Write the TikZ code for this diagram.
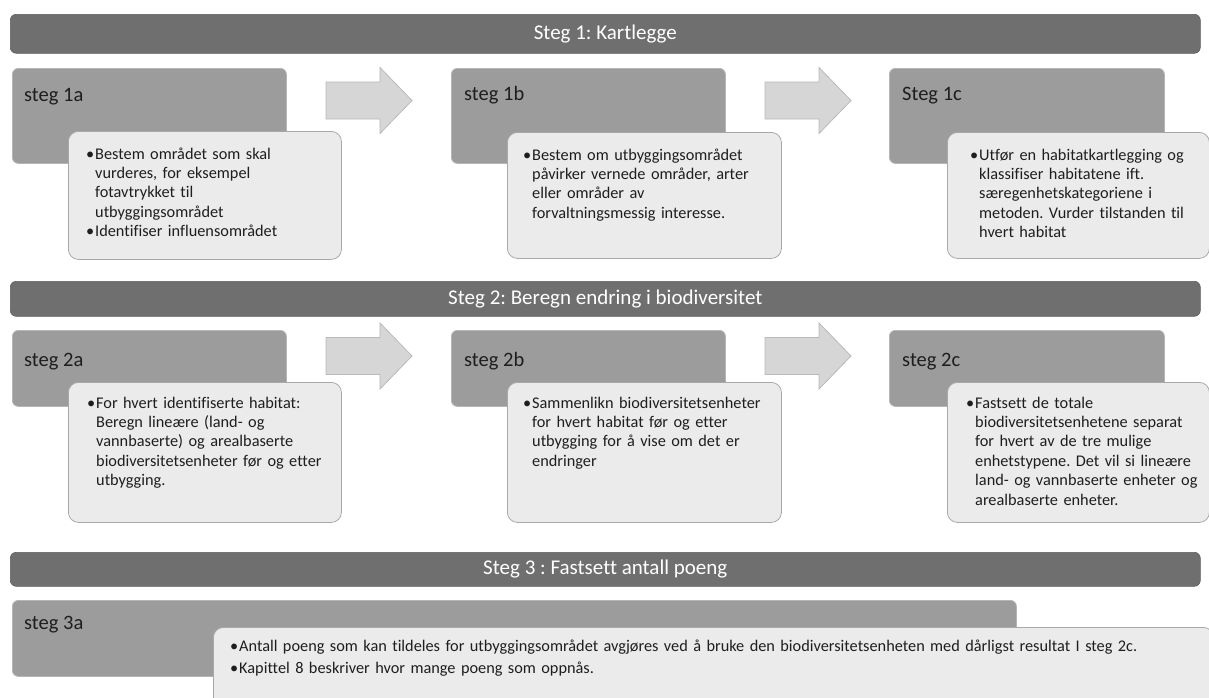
\documentclass[tikz,border=0pt]{standalone}
\usepackage{fontspec}
\setmainfont{Carlito}[Ligatures=NoCommon]
\frenchspacing
\definecolor{bannerc}{HTML}{6F6F6F}
\definecolor{bannerb}{HTML}{5E5E5E}
\definecolor{stepc}{HTML}{9C9C9C}
\definecolor{stepb}{HTML}{B5B5B5}
\definecolor{textc}{HTML}{EBEBEB}
\definecolor{textb}{HTML}{A8A8A8}
\definecolor{arrc}{HTML}{D6D6D6}
\definecolor{arrb}{HTML}{B9B9B9}
\definecolor{inkc}{HTML}{1E1E1E}
\newcommand\bl{\makebox[9pt][l]{•}}
\newcommand\ind{\hspace*{9pt}}
\tikzset{
  banner/.style={draw=bannerb, fill=bannerc, rounded corners=6pt, line width=0.6pt, inner sep=0pt, anchor=north west},
  bannertext/.style={text=white, font=\fontsize{21}{24}\selectfont, inner sep=0pt},
  stepbox/.style={draw=stepb, fill=stepc, rounded corners=6pt, line width=0.8pt, inner sep=0pt, anchor=north west},
  steplabel/.style={text=inkc, font=\fontsize{20.5}{24}\selectfont, inner sep=0pt, anchor=base west},
  textbox/.style={draw=textb, fill=textc, rounded corners=10pt, line width=0.8pt, inner sep=0pt, anchor=north west},
  bodytext/.style={text=inkc, font=\fontsize{16.3}{19.4}\selectfont, inner sep=0pt, anchor=base west, align=left, text width=#1},
  bodytext/.default=300pt,
  arrowshape/.style={draw=arrb, fill=arrc, line width=0.8pt}
}
\newcommand\blockarrow[3]{%
  \draw[arrowshape] (#1,#2) ++(0,-18.5) -- ++(54,0) -- ++(0,-14.5) -- ++(32,33) -- ++(-32,33) -- ++(0,-14.5) -- ++(-54,0) -- cycle;
  \coordinate (#3) at (#1,#2);}
\begin{document}
\begin{tikzpicture}[x=1pt,y=-1pt]
\useasboundingbox (0,0) rectangle (1209,697);
\clip (0,0) rectangle (1209,697);

% ---------- Step 1 ----------
\node[banner, minimum width=1190pt, minimum height=39pt] (b1) at (10,14) {};
\node[bannertext] (b1t) at (b1.center) {Steg 1: Kartlegge};

\node[stepbox, minimum width=274pt, minimum height=95pt] (s1a) at (12,68) {};
\node[steplabel] (l1a) at (24,101) {steg 1a};
\node[textbox, minimum width=273pt, minimum height=128pt] (x1a) at (68,131) {};
\node[bodytext] (t1a) at (86,159) {\bl Bestem området som skal\\\ind vurderes, for eksempel\\\ind fotavtrykket til\\\ind utbyggingsområdet\\\bl Identifiser influensområdet};

\blockarrow{326}{100.5}{a1}

\node[stepbox, minimum width=274pt, minimum height=95pt] (s1b) at (451,68) {};
\node[steplabel] (l1b) at (464,100) {steg 1b};
\node[textbox, minimum width=274pt, minimum height=126pt] (x1b) at (507,132) {};
\node[bodytext] (t1b) at (523,160) {\bl Bestem om utbyggingsområdet\\\ind påvirker vernede områder, arter\\\ind eller områder av\\\ind forvaltningsmessig interesse.};

\blockarrow{765}{100.5}{a2}

\node[stepbox, minimum width=275pt, minimum height=95pt] (s1c) at (889,68) {};
\node[steplabel] (l1c) at (902,100) {Steg 1c};
\node[textbox, minimum width=262pt, minimum height=126pt] (x1c) at (947,132) {};
\node[bodytext] (t1c) at (970,160) {\bl Utfør en habitatkartlegging og\\\ind klassifiser habitatene ift.\\\ind særegenhetskategoriene i\\\ind metoden. Vurder tilstanden til\\\ind hvert habitat};

% ---------- Step 2 ----------
\node[banner, minimum width=1190pt, minimum height=35pt] (b2) at (10,281) {};
\node[bannertext] (b2t) at (b2.center) {Steg 2: Beregn endring i biodiversitet};

\node[stepbox, minimum width=274pt, minimum height=76pt] (s2a) at (12,330) {};
\node[steplabel] (l2a) at (24,366) {steg 2a};
\node[textbox, minimum width=273pt, minimum height=140pt] (x2a) at (68,382) {};
\node[bodytext] (t2a) at (87,408) {\bl For hvert identifiserte habitat:\\\ind Beregn lineære (land- og\\\ind vannbaserte) og arealbaserte\\\ind biodiversitetsenheter før og etter\\\ind utbygging.};

\blockarrow{326}{356}{a3}

\node[stepbox, minimum width=274pt, minimum height=76pt] (s2b) at (451,330) {};
\node[steplabel] (l2b) at (464,366) {steg 2b};
\node[textbox, minimum width=274pt, minimum height=140pt] (x2b) at (507,382) {};
\node[bodytext] (t2b) at (523,408) {\bl Sammenlikn biodiversitetsenheter\\\ind for hvert habitat før og etter\\\ind utbygging for å vise om det er\\\ind endringer};

\blockarrow{765}{356}{a4}

\node[stepbox, minimum width=275pt, minimum height=76pt] (s2c) at (889,330) {};
\node[steplabel] (l2c) at (902,366) {steg 2c};
\node[textbox, minimum width=262pt, minimum height=140pt] (x2c) at (947,382) {};
\node[bodytext] (t2c) at (966,408) {\bl Fastsett de totale\\\ind biodiversitetsenhetene separat\\\ind for hvert av de tre mulige\\\ind enhetstypene. Det vil si lineære\\\ind land- og vannbaserte enheter og\\\ind arealbaserte enheter.};

% ---------- Step 3 ----------
\node[banner, minimum width=1190pt, minimum height=34pt] (b3) at (10,552) {};
\node[bannertext] (b3t) at (b3.center) {Steg 3 : Fastsett antall poeng};

\node[stepbox, minimum width=1004pt, minimum height=76pt] (s3a) at (12,600) {};
\node[steplabel] (l3a) at (24,629) {steg 3a};
\node[textbox, minimum width=1000pt, minimum height=85pt] (x3a) at (213,627) {};
\node[bodytext=960pt, font=\fontsize{16.3}{22}\selectfont] (t3a) at (230,651) {\bl Antall poeng som kan tildeles for utbyggingsområdet avgjøres ved å bruke den biodiversitetsenheten med dårligst resultat I steg 2c.\\\bl Kapittel 8 beskriver hvor mange poeng som oppnås.};
\end{tikzpicture}
\end{document}
